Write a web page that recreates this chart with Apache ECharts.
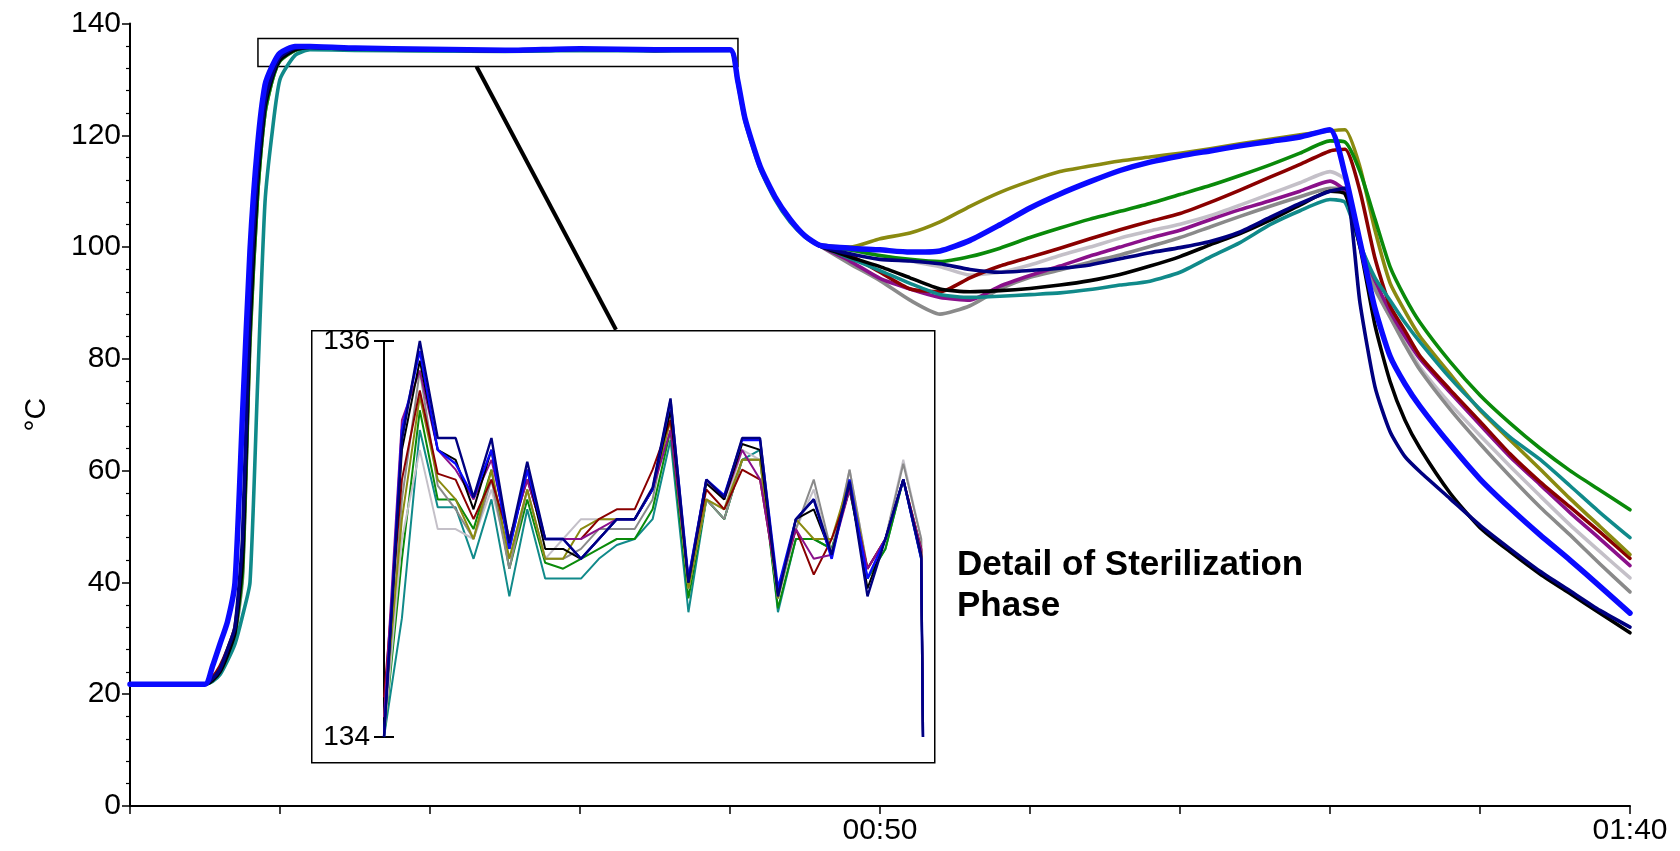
<!DOCTYPE html>
<html>
<head>
<meta charset="utf-8">
<script src="https://cdn.jsdelivr.net/npm/echarts@6/dist/echarts.min.js"></script>
<style>
html,body{margin:0;padding:0;background:#fff;}
#chart{width:1680px;height:851px;}
</style>
</head>
<body>
<div id="chart"></div>
<script>
// ---- main chart: time (minutes) ----
const times = [0,5,5.5,6,6.5,7,7.5,8,8.5,9,9.5,10,11,12,
  15,20,25,30,35,40,
  40.5,41,42,43,44,45,46,
  48,50,52,54,56,58,60,62,64,66,68,70,72,74,76,78,80,
  81,82,83,84,85,86,88,90,92,94,96,98,100];

const blueT   = [21.8,21.8,25,29,33,40,70,99.5,118,129,132.5,134.7,135.9,135.9,
  135.6,135.4,135.2,135.5,135.3,135.3,
  130,123,114.5,109,105,102,100.3,
  99.8,99.5,99.1,99.3,101.2,104,107,109.5,111.7,113.7,115.2,116.3,117.2,118.1,118.9,119.7,121,
  113,101,89,80.5,75.5,71.5,64.7,58.5,53.3,48.5,44,39.3,34.5];
const navyT   = [21.8,21.8,22.8,24.5,28,32,48,90,113,126,131,134,135.6,135.8,
  135.5,135.3,135.2,135.4,135.3,135.3,
  130,123,114.5,109,105,102,100.2,
  98.8,97.8,97.5,97,96,95.5,95.8,96.2,96.8,97.9,99,99.9,101,102.7,105.3,107.8,110,
  110.5,90,75,67,62.5,59.8,55,50.2,46,42,38.5,35,32];
const blackT  = [21.8,21.8,22.5,24,27,31,44,86,111,125,130.5,133.5,135.3,135.7,
  135.4,135.3,135.1,135.4,135.2,135.3,
  130,123,114.5,109,105,102,100.2,
  98.2,96.5,94.5,92.5,92,92.2,92.6,93.2,94,95.1,96.6,98.3,100.4,102.4,104.8,107.5,110,
  109.5,100,86,76,69,64,56,49.8,45.5,41.5,38,34.5,31];
const tealT   = [21.8,21.8,22.3,23.5,26,29,34,40,75,108,121,130,134.3,135.3,
  135.2,135.1,135.0,135.2,135.1,135.2,
  129.5,122.5,114,108.5,104.5,101.8,100.2,
  98,95.8,93.5,91.5,91,91.2,91.5,91.8,92.4,93.2,93.9,95.5,98.2,100.8,104,106.5,108.5,
  108,100.5,94.5,90.5,86.5,83,76.6,71,66,62,57.3,52.5,48];
const greenT  = [21.8,21.8,22.5,24,27,31,42,84,109,124,130,133.3,135.2,135.6,
  135.3,135.2,135.1,135.3,135.2,135.3,
  130,123,114.5,109,105,102,100.3,
  99.5,98.5,97.8,97.4,98.3,99.8,101.7,103.4,105,106.4,107.8,109.4,111,112.8,114.7,116.8,119,
  118.8,113.5,105,96.5,91,86.5,79.5,73.5,68.5,64,60,56.5,53];
const oliveT  = [21.8,21.8,22.6,24.2,27.5,31.5,43,85,110,125,130.5,133.5,135.3,135.7,
  135.4,135.3,135.2,135.4,135.3,135.3,
  130,123,114.5,109,105,102,100.4,
  100,101.5,102.5,104.5,107.3,109.8,111.8,113.5,114.5,115.4,116.1,116.8,117.6,118.5,119.3,120.1,120.8,
  121,114.3,103,93.6,88.5,84,77.3,70.8,65.5,60.3,55,50,45];
const maroonT = [21.8,21.8,23,25,28,32,45,87,111,125.5,130.8,133.7,135.4,135.7,
  135.4,135.3,135.2,135.4,135.3,135.3,
  130,123,114.5,109,105,102,100.2,
  98.5,95.5,92.5,92,94.5,96.6,98.2,99.8,101.5,103.1,104.6,106,108,110.2,112.5,114.8,117.2,
  117.5,110,98,89.5,85,80.5,74.5,68.8,63,58,53.5,49,44.3];
const purpleT = [21.8,21.8,22.6,24.2,27.5,31.5,44,86,111,125,130.5,133.5,135.4,135.8,
  135.4,135.3,135.2,135.4,135.3,135.3,
  130,123,114.5,109,105,102,100.2,
  97.5,94.4,92.5,91,90.5,93,94.9,96.6,98.4,100,101.6,103,104.9,106.7,108.3,110,111.8,
  110,100.5,94,88.5,84,80,74,68.2,62.5,57.5,52.5,47.8,43];
const grayT   = [21.8,21.8,22.4,23.8,26.5,30.5,41,83,109,124,130,133.3,135.2,135.6,
  135.3,135.2,135.1,135.3,135.2,135.3,
  130,123,114.5,109,105,102,100.2,
  97,94,90.5,88,89.5,92.5,94.6,95.9,97.3,98.6,100.1,101.7,103.6,105.5,107.3,109,110.5,
  110.5,100,92.5,87.5,82.5,78,71,64.8,59,53.5,48.5,43.3,38.3];
const silverT = [21.8,21.8,22.4,23.8,26.5,30.5,41,83,109,124,130,133.3,135.2,135.6,
  135.3,135.2,135.1,135.3,135.2,135.3,
  130,123,114.5,109,105,102,100.3,
  99.5,98.5,97.5,96.5,95,95.5,96.8,98.5,100,101.6,102.9,104.1,105.6,107.5,109.5,111.5,113.5,
  112,100.5,93,87.5,83,78.5,72,66.3,60.8,55.5,50.3,45.5,40.8];

// ---- inset: detail of sterilization phase (sample number) ----
const insetSteps = [0,1,2,3,4,5,6,7,8,9,10,11,12,13,14,15,16,17,18,19,20,21,22,23,24,25,26,27,28,29,30,30.1];
const navyD   = [134.0,135.5,136.0,135.51,135.51,135.21,135.51,134.98,135.39,135.0,135.0,134.9,135.0,135.1,135.1,135.26,135.71,134.78,135.3,135.21,135.51,135.51,134.71,135.1,135.2,134.92,135.29,134.71,135.0,135.3,134.91,134.0];
const blueD   = [134.0,135.55,135.95,135.45,135.38,135.21,135.45,134.95,135.35,135.0,135.0,134.9,135.0,135.1,135.1,135.25,135.7,134.8,135.3,135.22,135.5,135.5,134.75,135.1,135.2,134.9,135.3,134.8,135.0,135.3,134.9,134.0];
const blackD  = [134.0,135.45,135.9,135.45,135.4,135.15,135.45,134.95,135.35,134.95,134.95,134.9,135.0,135.1,135.1,135.25,135.65,134.78,135.28,135.2,135.48,135.45,134.72,135.1,135.15,134.92,135.28,134.75,135.0,135.3,134.92,134.0];
const purpleD = [134.1,135.6,135.85,135.45,135.35,135.2,135.4,135.0,135.3,135.0,135.0,135.0,135.05,135.1,135.1,135.25,135.55,134.8,135.3,135.2,135.45,135.3,134.75,135.05,134.9,134.92,135.25,134.85,135.0,135.3,134.95,134.0];
const maroonD = [134.2,135.3,135.75,135.33,135.3,135.1,135.3,135.0,135.3,135.0,135.0,135.0,135.1,135.15,135.15,135.35,135.6,134.8,135.25,135.15,135.35,135.3,134.75,135.05,134.82,135.0,135.25,134.85,135.0,135.3,134.95,134.0];
const oliveD  = [134.1,135.1,135.72,135.3,135.2,135.0,135.35,134.9,135.25,134.9,134.9,135.05,135.1,135.1,135.1,135.25,135.6,134.75,135.2,135.15,135.4,135.4,134.7,135.1,135.0,135.0,135.3,134.85,135.0,135.3,134.95,134.0];
const grayD   = [134.0,135.2,135.85,135.27,135.15,135.0,135.3,134.85,135.25,134.9,134.9,134.95,135.05,135.05,135.05,135.2,135.65,134.75,135.2,135.1,135.4,135.4,134.7,135.05,135.3,134.93,135.35,134.85,135.0,135.38,135.0,134.0];
const silverD = [134.0,135.0,135.45,135.05,135.05,135.0,135.25,134.9,135.25,134.9,135.0,135.1,135.1,135.1,135.1,135.25,135.6,134.75,135.2,135.15,135.45,135.4,134.7,135.05,135.25,134.9,135.35,134.85,135.0,135.4,135.0,134.0];
const greenD  = [134.0,134.9,135.65,135.2,135.2,135.05,135.35,134.85,135.2,134.88,134.85,134.9,134.95,135.0,135.0,135.15,135.55,134.7,135.2,135.1,135.4,135.4,134.65,135.0,135.0,134.95,135.25,134.8,134.95,135.3,134.9,134.0];
const tealD   = [134.0,134.6,135.55,135.16,135.16,134.9,135.2,134.71,135.15,134.8,134.8,134.8,134.9,134.97,135.0,135.1,135.5,134.63,135.2,135.1,135.4,135.45,134.63,135.0,135.0,134.95,135.25,134.8,134.95,135.3,134.9,134.0];

// ---- axis ticks / labels ----
const yTicks = [0,20,40,60,80,100,120,140];
const xLabelValues = [50,100];
const insetTicks = [134,136];
const yName = '°C';
const noteText = 'Detail of Sterilization\nPhase';

const COLORS = {blue:'#0a0aff', navy:'#000080', black:'#000000', teal:'#108a8a', green:'#0a8a0a',
  olive:'#8a8a10', maroon:'#8a0000', purple:'#8a108a', gray:'#8a8a8a', silver:'#c4c0c8'};

const FONT = '"Liberation Sans", Arial, sans-serif';

function zip(xs, ys){ return xs.map((x,i)=>[x, ys[i]]); }

const mainOrder = [
  ['silver',silverT],['gray',grayT],['purple',purpleT],['maroon',maroonT],['olive',oliveT],
  ['green',greenT],['teal',tealT],['black',blackT],['navy',navyT],['blue',blueT]];
const insetOrder = [
  ['teal',tealD],['green',greenD],['silver',silverD],['gray',grayD],['olive',oliveD],
  ['maroon',maroonD],['purple',purpleD],['black',blackD],['blue',blueD],['navy',navyD]];

function fmtTime(v){
  const h = Math.floor(v/60), m = Math.round(v%60);
  return String(h).padStart(2,'0') + ':' + String(m).padStart(2,'0');
}

const series = [];
mainOrder.forEach(([name, vals], i) => {
  const s = {
    name: name, type:'line', xAxisIndex:0, yAxisIndex:0,
    data: zip(times, vals), showSymbol:false, smooth:0.2,
    lineStyle:{color:COLORS[name], width: name==='blue'?5.5:3.6, join:'round', cap:'round'},
    itemStyle:{color:COLORS[name]}, z: 3 + i, silent:true
  };
  if (name === 'blue') {
    s.markArea = {
      silent:true,
      itemStyle:{color:'rgba(0,0,0,0)', borderColor:'#000', borderWidth:1.5},
      data:[[{coord:[8.53,137.3]},{coord:[40.53,132.3]}]]
    };
    s.markLine = {
      silent:true, symbol:['none','none'], animation:false,
      lineStyle:{color:'#000', width:4, type:'solid'},
      label:{show:false},
      data:[[{coord:[23.1,132.3]},{coord:[32.4,85.2]}]]
    };
  }
  series.push(s);
});
insetOrder.forEach(([name, vals], i) => {
  series.push({
    name: name+'-detail', type:'line', xAxisIndex:1, yAxisIndex:1,
    data: zip(insetSteps, vals), showSymbol:false,
    lineStyle:{color:COLORS[name], width:(name==='navy'||name==='blue')?2.4:2},
    z: 20 + i, silent:true
  });
});

const chart = echarts.init(document.getElementById('chart'), null, {renderer:'canvas'});
chart.setOption({
  animation:false,
  backgroundColor:'#ffffff',
  textStyle:{fontFamily:FONT},
  grid:[
    {left:130, right:50, top:23.5, bottom:45, containLabel:false},
    {left:384, top:341, width:539, height:396, containLabel:false}
  ],
  xAxis:[
    {type:'value', gridIndex:0, min:0, max:100, interval:10,
     axisLine:{show:true, onZero:false, lineStyle:{color:'#000', width:2}},
     axisTick:{show:true, length:8, lineStyle:{color:'#000', width:1.5}},
     splitLine:{show:false},
     axisLabel:{color:'#000', fontSize:30, fontFamily:FONT, margin:10,
       formatter:(v)=> xLabelValues.indexOf(v) >= 0 ? fmtTime(v) : ''}
    },
    {type:'value', gridIndex:1, min:0, max:30.1, show:false}
  ],
  yAxis:[
    {type:'value', gridIndex:0, min:0, max:140, interval:20,
     name:yName, nameLocation:'middle', nameRotate:90, nameGap:78,
     nameTextStyle:{color:'#000', fontSize:30, fontFamily:FONT},
     axisLine:{show:true, onZero:false, lineStyle:{color:'#000', width:2}},
     axisTick:{show:true, length:8, lineStyle:{color:'#000', width:1.5}},
     minorTick:{show:true, splitNumber:5, length:4, lineStyle:{color:'#000', width:1.2}},
     splitLine:{show:false}, minorSplitLine:{show:false},
     axisLabel:{color:'#000', fontSize:30, fontFamily:FONT, margin:9,
       formatter:(v)=> yTicks.indexOf(v) >= 0 ? String(v) : ''}
    },
    {type:'value', gridIndex:1, min:134, max:136, interval:2, position:'left',
     axisLine:{show:true, onZero:false, lineStyle:{color:'#000', width:2}},
     axisTick:{show:true, length:10, lineStyle:{color:'#000', width:2}},
     splitLine:{show:false},
     axisLabel:{color:'#000', fontSize:28, fontFamily:FONT, margin:14,
       formatter:(v)=> insetTicks.indexOf(v) >= 0 ? String(v) : ''}
    },
    {type:'value', gridIndex:1, min:134, max:136, interval:2, position:'left',
     axisLine:{show:false},
     axisTick:{show:true, inside:true, length:10, lineStyle:{color:'#000', width:2}},
     axisLabel:{show:false}, splitLine:{show:false}
    }
  ],
  graphic:[
    {type:'rect', left:311, top:330, z:1, silent:true,
     shape:{width:623, height:432},
     style:{fill:'rgba(0,0,0,0)', stroke:'#000', lineWidth:1.5}},
    {type:'text', left:957, top:545, z:30, silent:true,
     style:{text:noteText, fill:'#000', font:'bold 35px "Liberation Sans", Arial, sans-serif', lineHeight:41}}
  ],
  series: series
});
</script>
</body>
</html>
